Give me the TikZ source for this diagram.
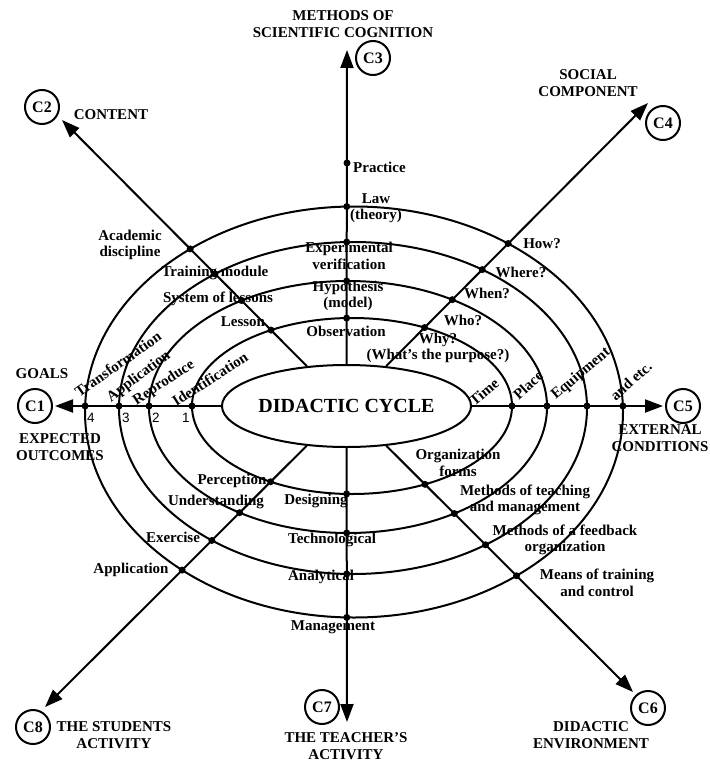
\documentclass[tikz,border=0pt]{standalone}
\usepackage{fontspec}
\setmainfont{Liberation Serif}
\newfontfamily\numfont{Liberation Sans}
\usetikzlibrary{arrows.meta,shapes.geometric,intersections}

\tikzset{
  axis/.style={line width=2pt,-{Triangle[length=18pt,width=13pt]}},
  ring/.style={line width=2pt},
  cnode/.style={circle,draw,line width=2pt,minimum size=34pt,inner sep=0pt,
    font=\fontsize{16}{16}\selectfont\bfseries},
  lab/.style={font=\fontsize{15}{16.5}\selectfont\bfseries,align=center,inner sep=0pt},
  ctitle/.style={font=\fontsize{15}{17}\selectfont\bfseries,align=center,inner sep=0pt},
  dot/.style={circle,fill,inner sep=0pt,minimum size=7pt},
  num/.style={font=\fontsize{13.5}{13.5}\selectfont\numfont,inner sep=0pt}
}

\begin{document}
\begin{tikzpicture}[x=1pt,y=-1pt]
    \useasboundingbox (0,0) rectangle (709,762);

    % Centre of the cycle
    \node[ellipse,draw,line width=2pt,minimum width=217pt,minimum height=82pt,inner sep=0pt,
      font=\fontsize{20}{20}\selectfont\bfseries] (cyc) at (346.5,406) {DIDACTIC CYCLE};

    % The four levels
    \draw[ring,name path=ring1] (352,406) ellipse [x radius=160, y radius=88];
    \draw[ring,name path=ring2] (348,407) ellipse [x radius=199, y radius=126];
    \draw[ring,name path=ring3] (353,408) ellipse [x radius=234, y radius=166];
    \draw[ring,name path=ring4] (354,412) ellipse [x radius=269, y radius=205.5];

    % Components
    \node[cnode] (c1) at (35,406) {C1};
    \node[cnode] (c2) at (42,107) {C2};
    \node[cnode] (c3) at (373,58) {C3};
    \node[cnode] (c4) at (663,123) {C4};
    \node[cnode] (c5) at (683,406) {C5};
    \node[cnode] (c6) at (648,708) {C6};
    \node[cnode] (c7) at (322,707) {C7};
    \node[cnode] (c8) at (33,727) {C8};

    % Arrow ends
    \coordinate (t1) at (55,406);
    \coordinate (t2) at (62,120);
    \coordinate (t3) at (347,50);
    \coordinate (t4) at (648,103);
    \coordinate (t5) at (663,406);
    \coordinate (t6) at (633,692);
    \coordinate (t7) at (347,722);
    \coordinate (t8) at (45,707);

    % Axes
    \foreach \a in {1,...,8}
      \draw[axis,name path global=ax\a] (cyc) -- (t\a);

    % Points where the axes cross the levels
    \foreach \r in {1,...,4}
      \foreach \a in {1,...,8}
        \fill[name intersections={of={ring\r} and {ax\a}}] (intersection-1) circle (3.5);
    \node[dot] (prac) at (347,163) {};

    % Component titles
    \node[ctitle] (goals) at (42,374) {GOALS};
    \node[ctitle] (outc) at (60,447) {EXPECTED\\OUTCOMES};
    \node[ctitle] (cont) at (111,115) {CONTENT};
    \node[ctitle] (meth) at (343,24) {METHODS OF\\SCIENTIFIC COGNITION};
    \node[ctitle] (soc) at (588,83) {SOCIAL\\COMPONENT};
    \node[ctitle] (ext) at (660,438) {EXTERNAL\\CONDITIONS};
    \node[ctitle] (env) at (591,735) {DIDACTIC\\ENVIRONMENT};
    \node[ctitle] (teach) at (346,746) {THE TEACHER’S\\ACTIVITY};
    \node[ctitle] (stud) at (114,735) {THE STUDENTS\\ACTIVITY};

    % Goals
    \node[lab,rotate=35] (transf) at (118,364) {Transformation};
    \node[lab,rotate=37] (appl) at (139,377) {Application};
    \node[lab,rotate=33] (repr) at (164,383) {Reproduce};
    \node[lab,rotate=33] (ident) at (210,379) {Identification};
    \node[num] (n4) at (91,418) {4};
    \node[num] (n3) at (126,418) {3};
    \node[num] (n2) at (156,418) {2};
    \node[num] (n1) at (186,418) {1};

    % Content
    \node[lab] (acad) at (130,245) {Academic\\discipline};
    \node[lab] (tmod) at (215,273) {Training module};
    \node[lab] (sysl) at (218,299) {System of lessons};
    \node[lab] (less) at (243,322) {Lesson};

    % Methods of scientific cognition
    \node[lab,anchor=west] (lprac) at (353,167) {Practice};
    \node[lab] (law) at (376,208) {Law\\(theory)};
    \node[lab] (expv) at (349,256) {Experimental\\verification};
    \node[lab] (hyp) at (348,296) {Hypothesis\\(model)};
    \node[lab] (obs) at (346,331) {Observation};

    % Social component
    \node[lab] (how) at (542,244) {How?};
    \node[lab] (where) at (521,272) {Where?};
    \node[lab] (when) at (487,293) {When?};
    \node[lab] (who) at (463,320) {Who?};
    \node[lab] (why) at (438,348) {Why?\\(What's the purpose?)};

    % External conditions
    \node[lab,rotate=40] (time) at (484,392) {Time};
    \node[lab,rotate=42] (place) at (528,385) {Place};
    \node[lab,rotate=40] (equip) at (581,374) {Equipment};
    \node[lab,rotate=42] (etc) at (631,381) {and etc.};

    % Didactic environment
    \node[lab] (orgf) at (458,463) {Organization\\forms};
    \node[lab] (mteach) at (525,500) {Methods of teaching\\and management};
    \node[lab] (mfeed) at (565,540) {Methods of a feedback\\organization};
    \node[lab] (means) at (597,583) {Means of training\\and control};

    % The teacher's activity
    \node[lab] (design) at (316,501) {Designing};
    \node[lab] (techn) at (332,540) {Technological};
    \node[lab] (anal) at (321,577) {Analytical};
    \node[lab] (manag) at (333,627) {Management};

    % The students activity
    \node[lab] (perc) at (232,481) {Perception};
    \node[lab] (under) at (216,502) {Understanding};
    \node[lab] (exer) at (173,537) {Exercise};
    \node[lab] (sappl) at (131,570) {Application};

\end{tikzpicture}
\end{document}
